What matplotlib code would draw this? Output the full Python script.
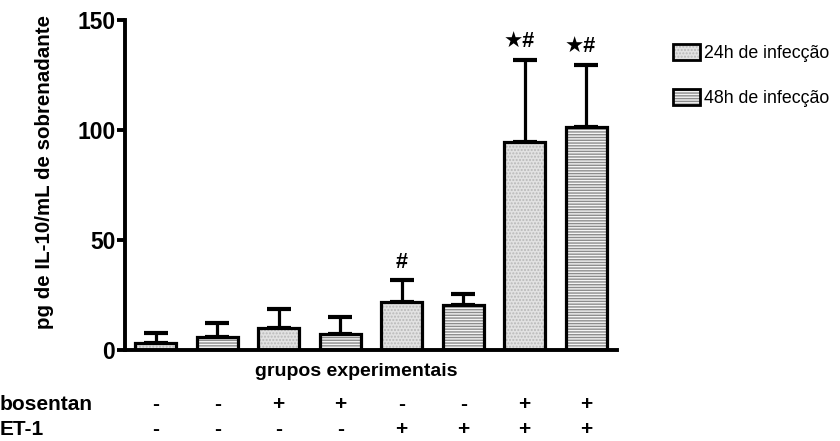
import matplotlib.pyplot as plt
from matplotlib.patches import Patch
from matplotlib.legend_handler import HandlerTuple
import numpy as np

plt.rcParams['font.family'] = ['Liberation Sans', 'DejaVu Sans']
plt.rcParams['hatch.linewidth'] = 1.0

# data
groups = np.arange(8)
means = [3.2, 5.9, 10.0, 7.3, 21.8, 20.5, 94.5, 101.4]
sem = [4.5, 6.4, 8.6, 7.7, 10.0, 5.0, 37.5, 28.1]
period = ['24h', '48h', '24h', '48h', '24h', '48h', '24h', '48h']
marks = ['', '', '', '', '#', '', '★#', '★#']
bosentan = ['-', '-', '+', '+', '-', '-', '+', '+']
et1 = ['-', '-', '-', '-', '+', '+', '+', '+']
legend_labels = ['24h de infecção', '48h de infecção']

style = {
    '24h': dict(facecolor='#e2e2e2', hatch='.....', hcolor='#b8b8b8'),
    '48h': dict(facecolor='#f4f4f4', hatch='------', hcolor='#8c8c8c'),
}

fig = plt.figure(figsize=(8.4, 4.41), dpi=100)
ax = fig.add_axes([0.1488, 0.2063, 0.7345 - 0.1488, 0.9546 - 0.2063])

width = 0.67
for x, m, p in zip(groups, means, period):
    s = style[p]
    ax.bar(x, m, width, color=s['facecolor'], edgecolor=s['hcolor'],
           hatch=s['hatch'], linewidth=0, zorder=2)
    ax.bar(x, m, width, fill=False, edgecolor='k', linewidth=2.3, zorder=3)

ax.errorbar(groups, means, yerr=[np.zeros(len(sem)), sem], fmt='none',
            ecolor='k', elinewidth=2.3, capsize=8.5, capthick=3, zorder=1)

for x, m, e, t in zip(groups, means, sem, marks):
    if t:
        ax.annotate(t, (x, m + e), xytext=(-4 if '★' in t else 0, 5),
                    textcoords='offset points', ha='center', va='bottom',
                    fontsize=15.5, fontweight='bold')

ax.set_xlim(-0.5, 7.5)
ax.set_ylim(0, 150)
ax.set_yticks([0, 50, 100, 150])
ax.set_xticks([])
for side in ('top', 'right'):
    ax.spines[side].set_visible(False)
for side in ('left', 'bottom'):
    ax.spines[side].set_linewidth(2.8)
ax.tick_params(axis='y', width=2.8, length=6, labelsize=16.5, pad=1)
for lab in ax.get_yticklabels():
    lab.set_fontweight('bold')

ax.set_ylabel('pg de IL-10/mL de sobrenadante', fontsize=14.8,
              fontweight='bold')
ax.yaxis.set_label_coords(-0.145, 0.538, transform=ax.transAxes)
ax.set_xlabel('grupos experimentais', fontsize=14, fontweight='bold')
ax.xaxis.set_label_coords(0.47, -0.04, transform=ax.transAxes)
ax.xaxis.label.set_va('top')

trans = ax.get_xaxis_transform()
rows = [('bosentan', bosentan, -0.165), ('ET-1', et1, -0.24)]
for name, signs, yy in rows:
    ax.text(-0.1488 / (0.7345 - 0.1488), yy, name, transform=ax.transAxes,
            ha='left', va='center', fontsize=15, fontweight='bold')
    for x, sg in zip(groups, signs):
        ax.text(x, yy, sg, transform=trans, ha='center', va='center',
                fontsize=15, fontweight='bold')

handles = []
for p in ('24h', '48h'):
    s = style[p]
    h1 = Patch(facecolor=s['facecolor'], edgecolor=s['hcolor'],
               hatch=s['hatch'], linewidth=0)
    h2 = Patch(fill=False, edgecolor='k', linewidth=2.0)
    handles.append((h1, h2))
fig.legend(handles, legend_labels,
           handler_map={tuple: HandlerTuple(ndivide=1, pad=0)},
           loc='upper left', bbox_to_anchor=(0.791, 0.92), frameon=False,
           fontsize=12.8, handlelength=1.5, handleheight=1.0, handletextpad=0.25,
           labelspacing=1.5, borderpad=0)

fig.savefig('out.png', dpi=100)
